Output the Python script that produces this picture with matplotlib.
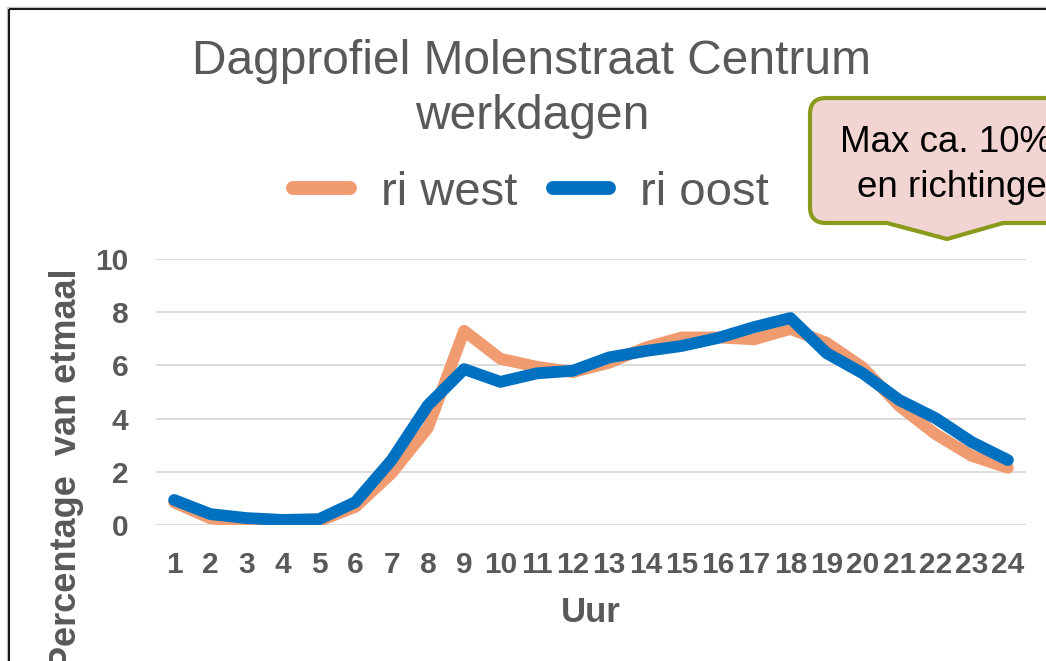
import matplotlib.pyplot as plt
from matplotlib.patches import PathPatch, Rectangle
from matplotlib.path import Path
from matplotlib.transforms import Affine2D

plt.rcParams["font.family"] = ["Liberation Sans", "DejaVu Sans"]

# data (percentage of daily traffic per hour)
hours = list(range(1, 25))
ri_west = [0.85, 0.25, 0.12, 0.10, 0.15, 0.68, 1.95, 3.65, 7.30, 6.25, 5.95, 5.75,
           6.10, 6.67, 7.05, 7.05, 6.98, 7.37, 6.85, 5.92, 4.48, 3.42, 2.60, 2.15]
ri_oost = [0.94, 0.41, 0.26, 0.19, 0.22, 0.86, 2.44, 4.50, 5.86, 5.38, 5.70, 5.80,
           6.30, 6.54, 6.73, 7.03, 7.44, 7.78, 6.46, 5.70, 4.70, 4.02, 3.12, 2.44]
y_ticks = [0, 2, 4, 6, 8, 10]

W, H = 1046, 661
GREY = "#595959"

fig = plt.figure(figsize=(W / 100, H / 100), dpi=100)
# pixel coords (y measured from top) -> figure coords
px = Affine2D().scale(1 / W, -1 / H).translate(0, 1) + fig.transFigure

ax = fig.add_axes([156 / W, (H - 525) / H, 870 / W, 266 / H])
ax.plot(hours, ri_west, color="#F09C70", lw=8.5, solid_capstyle="round",
        solid_joinstyle="round", label="ri west", zorder=3)
ax.plot(hours, ri_oost, color="#0070C0", lw=8.5, solid_capstyle="round",
        solid_joinstyle="round", label="ri oost", zorder=4)

ax.set_xlim(0.5, 24.5)
ax.set_ylim(0, 10)
ax.set_xticks(hours)
ax.set_yticks(y_ticks)
ax.tick_params(length=0, labelsize=21.5, labelcolor=GREY)
ax.tick_params(axis="x", pad=19)
ax.tick_params(axis="y", pad=20)
for lab in ax.get_xticklabels() + ax.get_yticklabels():
    lab.set_fontweight("bold")
ax.grid(axis="y", color="#D9D9D9", lw=1.3)
ax.set_axisbelow(True)
for s in ax.spines.values():
    s.set_visible(False)
ax.patch.set_alpha(0)

# titles and axis labels
fig.text(532, 74, "Dagprofiel Molenstraat Centrum", transform=px, ha="center",
         va="baseline", fontsize=34.5, color=GREY)
fig.text(532, 129, "werkdagen", transform=px, ha="center", va="baseline",
         fontsize=34.5, color=GREY)
fig.text(591, 622, "Uur", transform=px, ha="center", va="baseline",
         fontsize=25, fontweight="bold", color=GREY)
fig.text(76, 268, "Percentage  van etmaal", transform=px, rotation=90,
         rotation_mode="anchor", ha="right", va="baseline",
         fontsize=26, fontweight="bold", color=GREY)

leg = fig.legend(loc="center", bbox_to_anchor=(531 / W, 1 - 193 / H), ncol=2,
                 frameon=False, fontsize=34, handlelength=1.2, handletextpad=0.65,
                 columnspacing=0.75, labelcolor=GREY)
for line in leg.get_lines():
    line.set_linewidth(10)
    line.set_solid_capstyle("round")

# outer chart frame (continues past the crop)
fig.patches.append(Rectangle((7, 7), 1200, 1200, transform=px, fill=False,
                             ec="#C8C8C8", lw=1))
fig.patches.append(Rectangle((8.5, 8.5), 1200, 1200, transform=px, fill=False,
                             ec="#1A1A1A", lw=1.5))

# callout box (cut off at the right edge)
l, t, r, b, rad = 810, 98, 1090, 223, 16
verts = [(l + rad, t), (r, t), (r, b), (1003, b), (947, 239), (887, b),
         (l + rad, b), (l, b), (l, b - rad), (l, t + rad), (l, t), (l + rad, t),
         (l + rad, t)]
codes = [Path.MOVETO, Path.LINETO, Path.LINETO, Path.LINETO, Path.LINETO,
         Path.LINETO, Path.LINETO, Path.CURVE3, Path.CURVE3, Path.LINETO,
         Path.CURVE3, Path.CURVE3, Path.CLOSEPOLY]
fig.patches.append(PathPatch(Path(verts, codes), transform=px, fc="#F2D4D2",
                             ec="#8A9A1A", lw=3, joinstyle="round"))
fig.text(840, 152, "Max ca. 10% voor beid", transform=px, ha="left",
         va="baseline", fontsize=26.5, color="black")
fig.text(857, 197, "en richtingen", transform=px, ha="left",
         va="baseline", fontsize=26.5, color="black")

fig.savefig("out.png", dpi=100)
